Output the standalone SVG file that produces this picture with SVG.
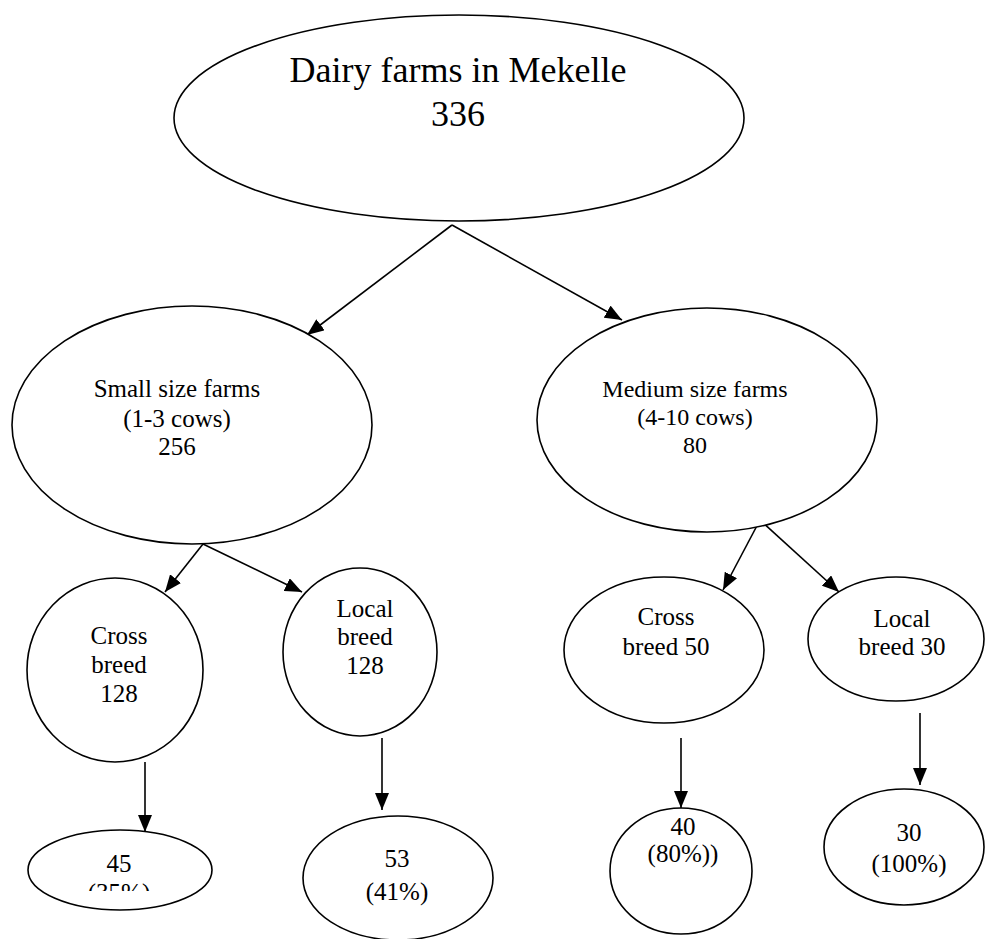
<svg xmlns="http://www.w3.org/2000/svg" width="986" height="939" viewBox="0 0 986 939">
<style>
  .node ellipse { fill: #ffffff; stroke: #000000; stroke-width: 1.6; }
  text { font-family: "Liberation Serif", "Times New Roman", serif; fill: #000000; text-anchor: middle; }
  .t36 { font-size: 36px; }
  .t25 { font-size: 25px; }
  .t24 { font-size: 24px; }
  .edge { stroke: #000000; stroke-width: 1.6; fill: none; marker-end: url(#arrow); }
</style>
<defs>
  <marker id="arrow" markerUnits="userSpaceOnUse" markerWidth="18" markerHeight="14" refX="17" refY="7" orient="auto">
    <path d="M0,0 L17,7 L0,14 Z" fill="#000000"/>
  </marker>
  <clipPath id="clip45"><rect x="0" y="820" width="260" height="71"/></clipPath>
</defs>
<rect width="986" height="939" fill="#ffffff"/>

<g id="connectors">
  <line class="edge" x1="452" y1="225" x2="307" y2="335"/>
  <line class="edge" x1="452" y1="225" x2="622" y2="320"/>
  <line class="edge" x1="203" y1="544" x2="165" y2="592"/>
  <line class="edge" x1="203" y1="544" x2="302" y2="592"/>
  <line class="edge" x1="760" y1="520" x2="723" y2="590"/>
  <line class="edge" x1="760" y1="520" x2="839" y2="592"/>
  <line class="edge" x1="145" y1="762" x2="145" y2="832"/>
  <line class="edge" x1="382" y1="738" x2="382" y2="810"/>
  <line class="edge" x1="681" y1="738" x2="681" y2="808"/>
  <line class="edge" x1="920" y1="713" x2="920" y2="785"/>
</g>

<g id="dairy" class="node">
  <ellipse cx="459" cy="118" rx="285" ry="103"/>
  <text class="t36" x="458" y="82">Dairy farms in Mekelle</text>
  <text class="t36" x="458" y="126">336</text>
</g>

<g id="small" class="node">
  <ellipse cx="192" cy="425" rx="180" ry="119"/>
  <text class="t25" x="177" y="397">Small size farms</text>
  <text class="t25" x="177" y="427">(1-3 cows)</text>
  <text class="t25" x="177" y="455">256</text>
</g>

<g id="medium" class="node">
  <ellipse cx="707" cy="420" rx="170" ry="112"/>
  <text class="t24" x="695" y="397">Medium size farms</text>
  <text class="t24" x="695" y="425">(4-10 cows)</text>
  <text class="t24" x="695" y="453">80</text>
</g>

<g id="cross128" class="node">
  <ellipse cx="115" cy="670" rx="88" ry="92"/>
  <text class="t25" x="119" y="644">Cross</text>
  <text class="t25" x="119" y="673">breed</text>
  <text class="t25" x="119" y="702">128</text>
</g>

<g id="local128" class="node">
  <ellipse cx="360" cy="652" rx="77" ry="84"/>
  <text class="t25" x="365" y="617">Local</text>
  <text class="t25" x="365" y="645">breed</text>
  <text class="t25" x="365" y="674">128</text>
</g>

<g id="cross50" class="node">
  <ellipse cx="664" cy="650" rx="100" ry="73"/>
  <text class="t25" x="666" y="625">Cross</text>
  <text class="t25" x="666" y="655">breed 50</text>
</g>

<g id="local30" class="node">
  <ellipse cx="896" cy="639" rx="88" ry="62"/>
  <text class="t25" x="902" y="627">Local</text>
  <text class="t25" x="902" y="655">breed 30</text>
</g>

<g id="n45" class="node">
  <ellipse cx="120" cy="870" rx="92" ry="40"/>
  <text class="t25" x="119" y="872">45</text>
  <text class="t25" x="119" y="901" clip-path="url(#clip45)">(35%)</text>
</g>

<g id="n53" class="node">
  <ellipse cx="398" cy="878" rx="95" ry="62"/>
  <text class="t25" x="397" y="867">53</text>
  <text class="t25" x="397" y="900">(41%)</text>
</g>

<g id="n40" class="node">
  <ellipse cx="681" cy="871" rx="71" ry="63"/>
  <text class="t25" x="683" y="835">40</text>
  <text class="t25" x="683" y="862">(80%))</text>
</g>

<g id="n30" class="node">
  <ellipse cx="904" cy="847" rx="80" ry="58"/>
  <text class="t25" x="909" y="841">30</text>
  <text class="t25" x="909" y="872">(100%)</text>
</g>
</svg>
